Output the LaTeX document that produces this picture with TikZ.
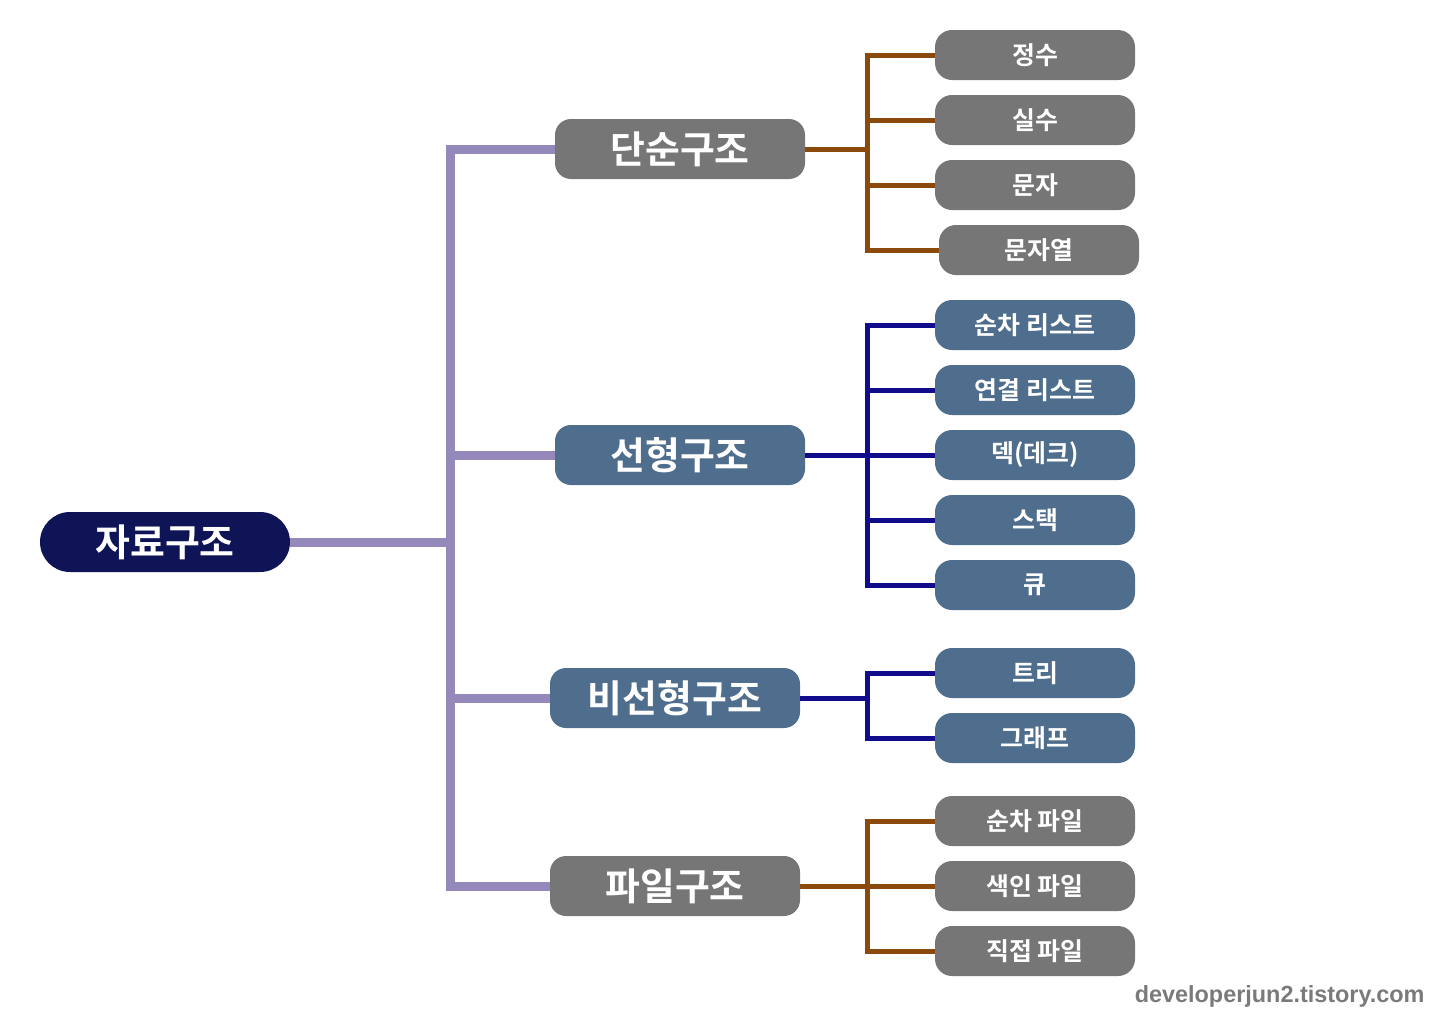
\documentclass[tikz,border=0pt]{standalone}
\usepackage{fontspec}
\setmainfont{Liberation Sans}
\newfontfamily\krfont{Noto Sans CJK KR}[BoldFont={* Bold}]
\usetikzlibrary{positioning,calc}
\definecolor{kRoot}{HTML}{0E1456}
\definecolor{kGray}{HTML}{767676}
\definecolor{kSlate}{HTML}{4F6E8E}
\definecolor{kPurple}{HTML}{9589BB}
\definecolor{kBrown}{HTML}{8B4A0C}
\definecolor{kNavy}{HTML}{110C8C}
\definecolor{kMark}{HTML}{7A7A7A}
\tikzset{
  rootbox/.style={fill=kRoot, text=white, rounded corners=30bp, inner sep=0pt,
              minimum width=250bp, minimum height=60bp,
              font=\krfont\bfseries\fontsize{38}{40}\selectfont},
  midbox/.style={fill=#1, text=white, rounded corners=16bp, inner sep=0pt,
              minimum width=250bp, minimum height=60bp,
              font=\krfont\bfseries\fontsize{38}{40}\selectfont},
  midbox/.default=kGray,
  leafbox/.style={fill=#1, text=white, rounded corners=17bp, inner sep=0pt,
              minimum width=200bp, minimum height=50bp,
              font=\krfont\bfseries\fontsize{25}{28}\selectfont},
  leafbox/.default=kGray,
  trunk/.style={kPurple, line width=9bp},
  brn/.style={kBrown, line width=5bp},
  nvy/.style={kNavy, line width=5bp},
}
\begin{document}
\begin{tikzpicture}[x=1bp,y=-1bp]
  \useasboundingbox (0,0) rectangle (1440,1024);
  % root and main groups
  \node[rootbox] (root) at (165,542) {자료구조};
  \node[midbox] (simple) at (680,149) {단순구조};
  \node[midbox=kSlate] (linear) at (680,455) {선형구조};
  \node[midbox=kSlate] (nonlin) at (675,698) {비선형구조};
  \node[midbox] (file) at (675,886) {파일구조};
  \coordinate (fork) at (450,542);
  \draw[trunk] (root.east) -- (fork);
  \foreach \g in {simple,linear,nonlin,file}
    \draw[trunk] (\g.west) -| (fork);
  % simple types
  \node[leafbox] (int) at (1035,55) {정수};
  \node[leafbox] (real) at (1035,120) {실수};
  \node[leafbox] (chr) at (1035,185) {문자};
  \node[leafbox] (str) at (1039,250) {문자열};
  \coordinate (sfork) at (867,149);
  \draw[brn] (simple.east) -- (sfork);
  \foreach \l in {int,real,chr,str}
    \draw[brn] (\l.west) -| (sfork);
  % linear
  \node[leafbox=kSlate] (seq) at (1035,325) {순차 리스트};
  \node[leafbox=kSlate] (linked) at (1035,390) {연결 리스트};
  \node[leafbox=kSlate] (deque) at (1035,455) {덱(데크)};
  \node[leafbox=kSlate] (stack) at (1035,520) {스택};
  \node[leafbox=kSlate] (queue) at (1035,585) {큐};
  \coordinate (lfork) at (867,455);
  \draw[nvy] (linear.east) -- (lfork);
  \foreach \l in {seq,linked,deque,stack,queue}
    \draw[nvy] (\l.west) -| (lfork);
  % non-linear
  \node[leafbox=kSlate] (tree) at (1035,673) {트리};
  \node[leafbox=kSlate] (graph) at (1035,738) {그래프};
  \coordinate (nfork) at (867,698);
  \draw[nvy] (nonlin.east) -- (nfork);
  \foreach \l in {tree,graph}
    \draw[nvy] (\l.west) -| (nfork);
  % files
  \node[leafbox] (seqf) at (1035,821) {순차 파일};
  \node[leafbox] (idxf) at (1035,886) {색인 파일};
  \node[leafbox] (dirf) at (1035,951) {직접 파일};
  \coordinate (ffork) at (867,886);
  \draw[brn] (file.east) -- (ffork);
  \foreach \l in {seqf,idxf,dirf}
    \draw[brn] (\l.west) -| (ffork);
  \node[anchor=east, text=kMark, font=\bfseries\fontsize{23.5}{26}\selectfont]
    (mark) at (1428,996) {developerjun2.tistory.com};
\end{tikzpicture}
\end{document}
